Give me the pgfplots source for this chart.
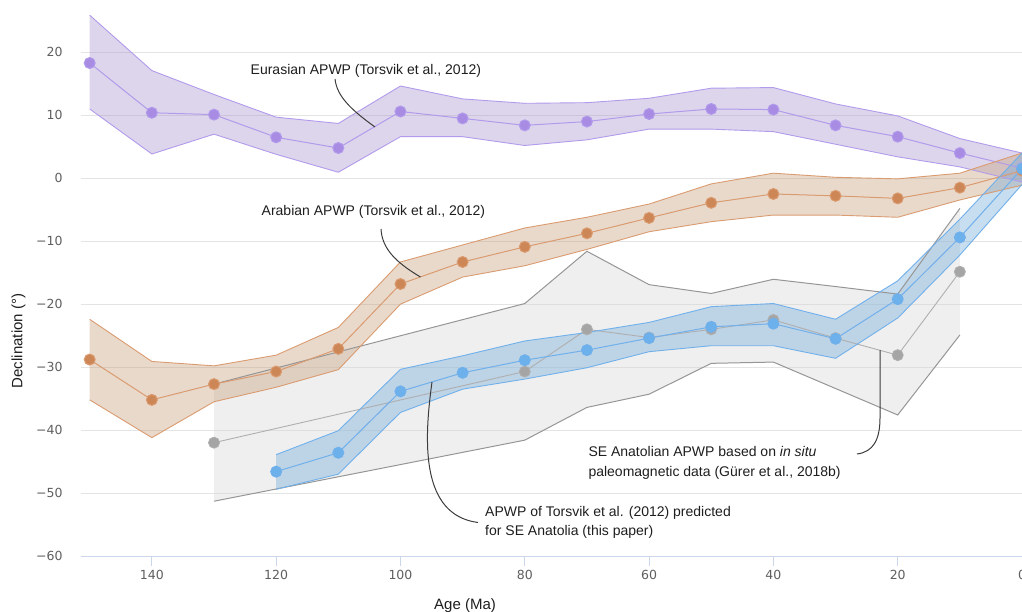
\documentclass[border=0pt]{standalone}
\usepackage{pgfplots}
\pgfplotsset{compat=1.18}
\usepgfplotslibrary{fillbetween}
\usepackage{pgfplotstable}
\usepackage{fontspec}
\setmainfont{Liberation Sans}
\newfontfamily\tickfamily{DejaVu Sans}

\definecolor{purpFill}{RGB}{168,150,205}
\definecolor{purpLine}{RGB}{178,155,236}
\definecolor{purpMark}{RGB}{168,140,228}
\definecolor{oranFill}{RGB}{200,160,125}
\definecolor{oranLine}{RGB}{218,155,112}
\definecolor{oranMark}{RGB}{205,134,86}
\definecolor{blueFill}{RGB}{115,170,217}
\definecolor{blueLine}{RGB}{112,176,235}
\definecolor{blueMark}{RGB}{108,176,236}
\definecolor{grayFill}{RGB}{215,215,215}
\definecolor{grayEdge}{RGB}{150,150,150}
\definecolor{grayLine}{RGB}{175,175,175}
\definecolor{grayMark}{RGB}{165,165,165}
\definecolor{axisBlue}{RGB}{204,214,235}
\definecolor{gridGray}{RGB}{228,228,228}
\definecolor{tickGray}{RGB}{95,95,95}
\definecolor{annot}{RGB}{30,30,30}
\definecolor{leader}{RGB}{60,60,60}

% Eurasian APWP
\pgfplotstableread{
x y lo hi
150 18.3 11.0 25.9
140 10.4 3.85 17.1
130 10.1 7.0 13.3
120 6.5 3.8 9.7
110 4.8 0.95 8.7
100 10.6 6.6 14.65
90 9.5 6.6 12.6
80 8.4 5.2 11.9
70 9.0 6.1 12.0
60 10.2 7.8 12.7
50 11.0 7.8 14.3
40 10.9 7.4 14.4
30 8.4 5.4 11.8
20 6.6 3.4 9.9
10 4.0 1.8 6.3
0 1.6 -0.6 4.0
}\eur

% Arabian APWP
\pgfplotstableread{
x y lo hi
150 -28.8 -35.2 -22.4
140 -35.2 -41.2 -29.1
130 -32.7 -35.5 -29.8
120 -30.7 -33.2 -28.1
110 -27.1 -30.4 -23.7
100 -16.8 -20.0 -13.3
90 -13.3 -15.7 -10.6
80 -10.9 -13.9 -7.9
70 -8.75 -11.3 -6.2
60 -6.3 -8.5 -4.1
50 -3.9 -6.9 -0.9
40 -2.5 -5.85 0.8
30 -2.8 -5.85 0.15
20 -3.2 -6.2 -0.1
10 -1.5 -3.45 0.8
0 1.2 -1.1 4.0
}\arab

% SE Anatolian APWP (in situ)
\pgfplotstableread{
x y lo hi
120 -46.6 -49.4 -43.9
110 -43.6 -47.0 -40.1
100 -33.85 -37.2 -30.35
90 -30.9 -33.5 -28.2
80 -28.9 -31.9 -25.85
70 -27.3 -30.1 -24.5
60 -25.4 -27.55 -22.9
50 -23.6 -26.6 -20.4
40 -23.1 -26.6 -19.9
30 -25.5 -28.6 -22.4
20 -19.2 -22.2 -16.3
10 -9.4 -12.2 -6.5
0 1.5 -1.0 4.0
}\sean

% APWP of Torsvik et al. (2012) predicted for SE Anatolia
\pgfplotstableread{
x y lo hi
130 -42.0 -51.3 -32.7
80 -30.7 -41.6 -19.9
70 -24.0 -36.4 -11.6
60 -25.3 -34.3 -16.9
50 -24.0 -29.4 -18.3
40 -22.5 -29.2 -16.05
30 -25.4 -33.4 -17.2
20 -28.1 -37.6 -18.4
10 -14.85 -24.9 -4.8
}\pred

\begin{document}
\begin{tikzpicture}
\begin{axis}[
  scale only axis,
  width=941pt, height=556pt,
  xmin=0, xmax=151.4, x dir=reverse,
  ymin=-60, ymax=28.31,
  axis x line*=bottom, axis y line*=left,
  x axis line style={draw=axisBlue, line width=1pt},
  y axis line style={draw=none},
  tick align=outside,
  major tick length=10pt,
  xtick={0,20,...,140},
  xticklabels={0,20,40,60,80,100,120,140},
  ytick={-60,-50,...,20},
  yticklabels={−60,−50,−40,−30,−20,−10,0,10,20},
  /pgf/number format/assume math mode=true,
  xtick style={draw=axisBlue, line width=1pt},
  ytick style={draw=none},
  ymajorgrids,
  grid style={draw=gridGray, line width=1pt},
  tick label style={font=\tickfamily\fontsize{12.5}{15}\selectfont, text=tickGray},
  yticklabel style={xshift=-5pt},
  xticklabel style={yshift=-1pt},
  xlabel={Age (Ma)},
  ylabel={Declination (°)},
  xlabel style={at={(axis description cs:0.4081,-0.0900)}, anchor=center, font=\fontsize{15}{18}\selectfont, text=annot},
  ylabel style={at={(axis description cs:-0.0664,0.3867)}, anchor=center, rotate=0, font=\fontsize{15}{18}\selectfont, text=annot},
  clip=false,
]
% gray predicted band
\addplot[name path=gU, draw=grayEdge, line width=1pt] table[x=x,y=hi]{\pred};
\addplot[name path=gL, draw=grayEdge, line width=1pt] table[x=x,y=lo]{\pred};
\addplot[fill=grayFill, fill opacity=0.4, draw=none] fill between[of=gU and gL];
% Eurasian
\addplot[name path=eU, draw=purpLine, line width=0.9pt] table[x=x,y=hi]{\eur};
\addplot[name path=eL, draw=purpLine, line width=0.9pt] table[x=x,y=lo]{\eur};
\addplot[fill=purpFill, fill opacity=0.4, draw=none] fill between[of=eU and eL];
\addplot[draw=purpLine, line width=1pt, mark=*, mark size=5.5pt, mark options={draw=none, fill=purpMark}] table[x=x,y=y]{\eur};
% Arabian
\addplot[name path=aU, draw=oranLine, line width=0.9pt] table[x=x,y=hi]{\arab};
\addplot[name path=aL, draw=oranLine, line width=0.9pt] table[x=x,y=lo]{\arab};
\addplot[fill=oranFill, fill opacity=0.4, draw=none] fill between[of=aU and aL];
\addplot[draw=oranLine, line width=1pt, mark=*, mark size=5.5pt, mark options={draw=none, fill=oranMark}] table[x=x,y=y]{\arab};
% predicted centre line
\addplot[draw=grayLine, line width=0.9pt, mark=*, mark size=5.5pt, mark options={draw=none, fill=grayMark}] table[x=x,y=y]{\pred};
% SE Anatolian in situ
\addplot[name path=bU, draw=blueLine, line width=0.9pt] table[x=x,y=hi]{\sean};
\addplot[name path=bL, draw=blueLine, line width=0.9pt] table[x=x,y=lo]{\sean};
\addplot[fill=blueFill, fill opacity=0.4, draw=none] fill between[of=bU and bL];
\addplot[draw=blueLine, line width=1pt, mark=*, mark size=5.5pt, mark options={draw=none, fill=blueMark}] table[x=x,y=y]{\sean};
\end{axis}
\begin{scope}[x=1pt, y=-1pt, shift={(-81pt,556pt)}]
  \tikzset{ann/.style={anchor=west, inner sep=0pt, text=annot, font=\fontsize{14}{19.5}\selectfont, align=left}}
  \node[ann] at (250.5,71) {Eurasian APWP (Torsvik et al., 2012)};
  \node[ann] at (261.5,212) {Arabian APWP (Torsvik et al., 2012)};
  \node[ann] at (588.3,463) {SE Anatolian APWP based on \textit{in situ}\\paleomagnetic data (Gürer et al., 2018b)};
  \node[ann] at (485,522.5) {APWP of Torsvik et al. (2012) predicted\\for SE Anatolia (this paper)};
  \draw[leader, line width=1pt] (335,79) .. controls (337,96) and (350,109) .. (375,127);
  \draw[leader, line width=1pt] (381,229) .. controls (382,248) and (395,262) .. (420.5,277);
  \draw[leader, line width=1pt] (857,454) .. controls (873,452) and (880,440) .. (880,418) -- (880,350);
  \draw[leader, line width=1pt] (432,382) .. controls (424,440) and (420,515) .. (478,522.5);
  \pgfresetboundingbox
  \useasboundingbox (0,0) rectangle (1022,611);
\end{scope}
\end{tikzpicture}
\end{document}
